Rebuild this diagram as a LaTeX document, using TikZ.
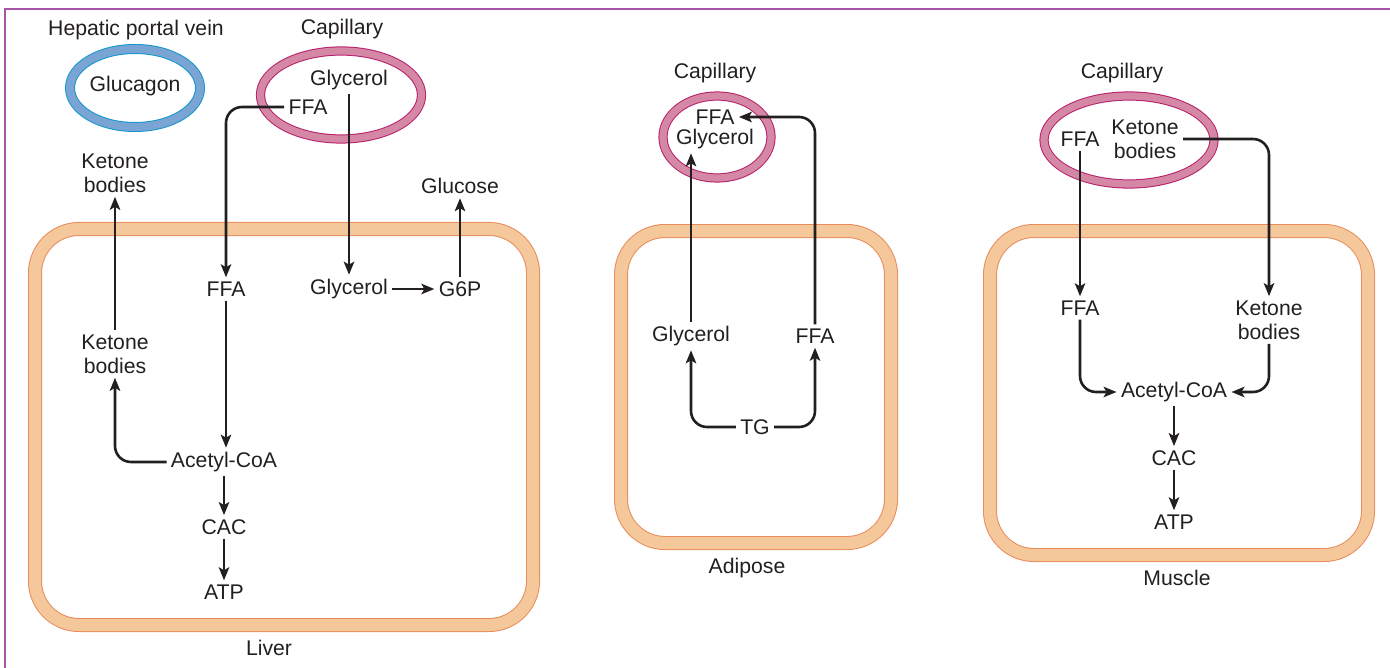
\documentclass[tikz,border=0pt]{standalone}
\usepackage{fontspec}
\setmainfont{Liberation Sans}
\usetikzlibrary{arrows.meta}
\definecolor{frame}{RGB}{166,84,166}
\definecolor{band}{RGB}{245,200,156}
\definecolor{bandedge}{RGB}{232,140,92}
\definecolor{vein}{RGB}{122,164,212}
\definecolor{veinedge}{RGB}{20,150,205}
\definecolor{capil}{RGB}{212,136,166}
\definecolor{capiledge}{RGB}{184,30,105}
\definecolor{ink}{RGB}{35,31,32}

\begin{document}
\begin{tikzpicture}[ink,x=0.5pt,y=-0.5pt,font=\fontsize{10.6}{12}\selectfont,
	every node/.style={inner sep=2pt,align=center},
	pfeil/.style={line width=1.3pt,-{Stealth[length=6.5pt,width=5.2pt,inset=1.5pt]},rounded corners=8pt},
	cell/.style={draw=bandedge,double=band,double distance=6pt,line width=0.5pt,rounded corners=22pt},
	capring/.style={draw=capiledge,double=capil,double distance=3.6pt,line width=0.5pt},
	veinring/.style={draw=veinedge,double=vein,double distance=4pt,line width=0.5pt}]
	\useasboundingbox (0,0) rectangle (1390,668);
	\draw[frame,line width=1.2pt] (5,668) -- (5,9) -- (1390,9);
	
	\draw[cell] (35,229) rectangle (533,625);
	\draw[cell] (621,231) rectangle (891,543);
	\draw[cell] (990,231) rectangle (1368,555);
	\draw[veinring] (135,88) ellipse [x radius=32.5pt,y radius=19.5pt];
	\draw[capring] (341,95) ellipse [x radius=40.25pt,y radius=22pt];
	\draw[capring] (717,137) ellipse [x radius=27pt,y radius=20.5pt];
	\draw[capring] (1129,140) ellipse [x radius=42.5pt,y radius=22pt];
	
	\node (HPV) at (136,30) {Hepatic portal vein};
	\node (Gcg) at (135,86) {Glucagon};
	\node (LCap) at (342,29) {Capillary};
	\node (CGly1) at (349,80) {Glycerol};
	\node (CFFA1) at (308,107) {FFA};
	\node (KB0) at (115,173) {Ketone\\bodies};
	\node (Glu) at (460,186) {Glucose};
	\node (FFA1) at (226,289) {FFA};
	\node (Gly1) at (349,289) {Glycerol};
	\node (G6P) at (460,289) {G6P};
	\node (KB1) at (115,354) {Ketone\\bodies};
	\node (AC1) at (224,462) {Acetyl-CoA};
	\node (CAC1) at (224,527) {CAC};
	\node (ATP1) at (224,592) {ATP};
	\node (Liver) at (269,648) {Liver};
	\draw[pfeil] (CFFA1.west) -| (FFA1.north);
	\draw[pfeil] (CGly1) -- (Gly1);
	\draw[pfeil] (Gly1) -- (G6P);
	\draw[pfeil] (G6P) -- (Glu);
	\draw[pfeil] (FFA1) -- (FFA1 |- AC1.north);
	\draw[pfeil] (AC1.west) -| (KB1.south);
	\draw[pfeil] (KB1) -- (KB0);
	\draw[pfeil] (AC1) -- (CAC1);
	\draw[pfeil] (CAC1) -- (ATP1);
	
	\node (ACap) at (715,73) {Capillary};
	\node (CFFA2) at (715,117) {FFA};
	\node (CGly2) at (715,139) {Glycerol};
	\node (Gly2) at (691,336) {Glycerol};
	\node (FFA2) at (815,336) {FFA};
	\node (TG) at (755,427) {TG};
	\node (Adip) at (747,568) {Adipose};
	\draw[pfeil] (TG.west) -| (Gly2.south);
	\draw[pfeil] (TG.east) -| (FFA2.south);
	\draw[pfeil] (Gly2) -- (Gly2 |- CGly2.south);
	\draw[pfeil] (FFA2.north) |- (CFFA2.east);
	
	\node (MCap) at (1122,73) {Capillary};
	\node (CFFA3) at (1080,139) {FFA};
	\node (CKB3) at (1145,139) {Ketone\\bodies};
	\node (FFA3) at (1080,308) {FFA};
	\node (KB3) at (1269,320) {Ketone\\bodies};
	\node (AC3) at (1174,392) {Acetyl-CoA};
	\node (CAC3) at (1174,458) {CAC};
	\node (ATP3) at (1174,522) {ATP};
	\node (Musc) at (1177,578) {Muscle};
	\draw[pfeil] (CFFA3) -- (FFA3);
	\draw[pfeil] (CKB3.east) -| (KB3.north);
	\draw[pfeil] (FFA3.south) |- (AC3.west);
	\draw[pfeil] (KB3.south) |- (AC3.east);
	\draw[pfeil] (AC3) -- (CAC3);
	\draw[pfeil] (CAC3) -- (ATP3);
\end{tikzpicture}
\end{document}
